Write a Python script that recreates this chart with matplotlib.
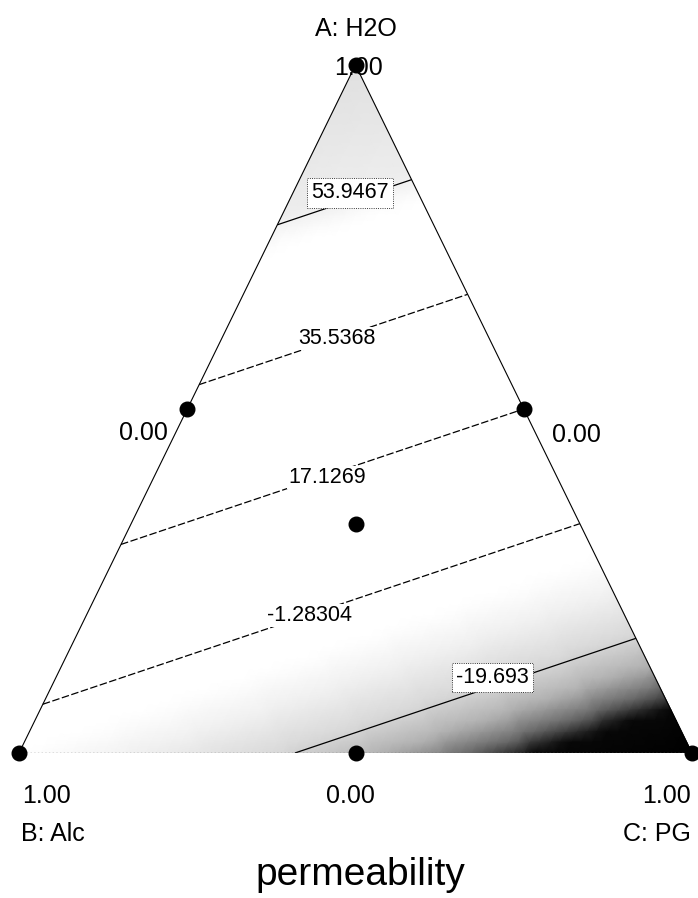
import numpy as np
import matplotlib
matplotlib.use("Agg")
import matplotlib.pyplot as plt
import matplotlib.tri as mtri
import matplotlib.colors as mcolors

plt.rcParams['font.family'] = ['Liberation Sans', 'DejaVu Sans']
plt.rcParams['lines.dashed_pattern'] = [6, 2]

# pure-component vertices: fraction of A and C at B(left), C(right), A(top)
vert_A = [0.0, 0.0, 1.0]
vert_C = [0.0, 1.0, 0.0]
# predicted permeability at each pure component (linear mixture model)
vert_resp = [-6.9, -38.103, 72.356]

# contour levels printed on the plot
levels = [-19.693, -1.28304, 17.1269, 35.5368, 53.9467]
level_text = ["-19.693", "-1.28304", "17.1269", "35.5368", "53.9467"]
level_boxed = [True, False, False, False, True]
level_style = ['solid', 'dashed', 'dashed', 'dashed', 'solid']

# design points (A and C fractions; B = 1 - A - C)
design_A = [1.0, 0.0, 0.0, 0.5, 0.5, 0.0, 1 / 3]
design_C = [0.0, 0.0, 1.0, 0.0, 0.5, 0.5, 1 / 3]

W, H = 698, 898


def tern_xy(a, c):
    a = np.asarray(a, float)
    c = np.asarray(c, float)
    return c + a / 2, a


def fig_pt(px, py):
    return px / W, 1 - py / H


fig = plt.figure(figsize=(W / 100, H / 100), dpi=100)
ax = fig.add_axes([19 / W, (H - 753) / H, 673 / W, 688 / H])
ax.set_xlim(0, 1)
ax.set_ylim(0, 1)
ax.axis('off')

# shading of the response surface (grayscale scan look)
vmin, vmax = min(vert_resp), max(vert_resp)
stops = [(-38.103, 0.0), (-31, 0.03), (-28, 0.42), (-24, 0.7), (-19, 0.85),
         (-12, 0.95), (-7, 1.0), (51, 1.0), (55, 0.93), (72.356, 0.88)]
cmap = mcolors.LinearSegmentedColormap.from_list(
    "scan", [((v - vmin) / (vmax - vmin), (g, g, g)) for v, g in stops])

vx, vy = tern_xy(vert_A, vert_C)
tri = mtri.Triangulation(vx, vy)
refiner = mtri.UniformTriRefiner(tri)
tri_r, z_r = refiner.refine_field(np.array(vert_resp),
                                  triinterpolator=mtri.LinearTriInterpolator(tri, np.array(vert_resp)),
                                  subdiv=6)
ax.tripcolor(tri_r, z_r, shading='gouraud', cmap=cmap, vmin=vmin, vmax=vmax, zorder=1)

# contour lines
cs = ax.tricontour(tri, vert_resp, levels=levels, colors='black',
                   linewidths=0.9, linestyles=level_style, zorder=2)

# triangle edges
ax.plot([vx[0], vx[2], vx[1]], [vy[0], vy[2], vy[1]], color='black', lw=0.8, zorder=3)
ax.plot([vx[0], vx[1]], [vy[0], vy[1]], color='0.4', lw=1.0, ls=':', zorder=3)

# contour labels (positions in axes data coords)
label_pos = [(0.704, 0.110), (0.432, 0.200), (0.458, 0.401), (0.4725, 0.603), (0.492, 0.814)]
for (lx, ly), txt, boxed in zip(label_pos, level_text, level_boxed):
    if boxed:
        bb = dict(boxstyle='square,pad=0.2', fc='white', ec='black', lw=0.6, ls=':')
    else:
        bb = dict(boxstyle='square,pad=0.05', fc='white', ec='none')
    ax.text(lx, ly, txt, fontsize=15.5, ha='center', va='center', bbox=bb, zorder=4)

# design points
dx, dy = tern_xy(design_A, design_C)
ax.plot(dx, dy, 'o', color='black', ms=10.5, clip_on=False, zorder=6)

# axis labels around the triangle
fs = 18
fig.text(*fig_pt(356, 36), "A: H2O", fontsize=fs, ha='center', va='baseline')
fig.text(*fig_pt(359, 75), "1.00", fontsize=fs, ha='center', va='baseline', zorder=0)
fig.text(*fig_pt(143, 440), "0.00", fontsize=fs, ha='center', va='baseline')
fig.text(*fig_pt(576, 442), "0.00", fontsize=fs, ha='center', va='baseline')
fig.text(*fig_pt(22, 803), "1.00", fontsize=fs, ha='left', va='baseline')
fig.text(*fig_pt(21, 841), "B: Alc", fontsize=fs, ha='left', va='baseline')
fig.text(*fig_pt(350, 803), "0.00", fontsize=fs, ha='center', va='baseline')
fig.text(*fig_pt(691, 803), "1.00", fontsize=fs, ha='right', va='baseline')
fig.text(*fig_pt(691, 841), "C: PG", fontsize=fs, ha='right', va='baseline')
fig.text(*fig_pt(360, 885), "permeability", fontsize=28, ha='center', va='baseline')

fig.savefig("out.png", dpi=100)
